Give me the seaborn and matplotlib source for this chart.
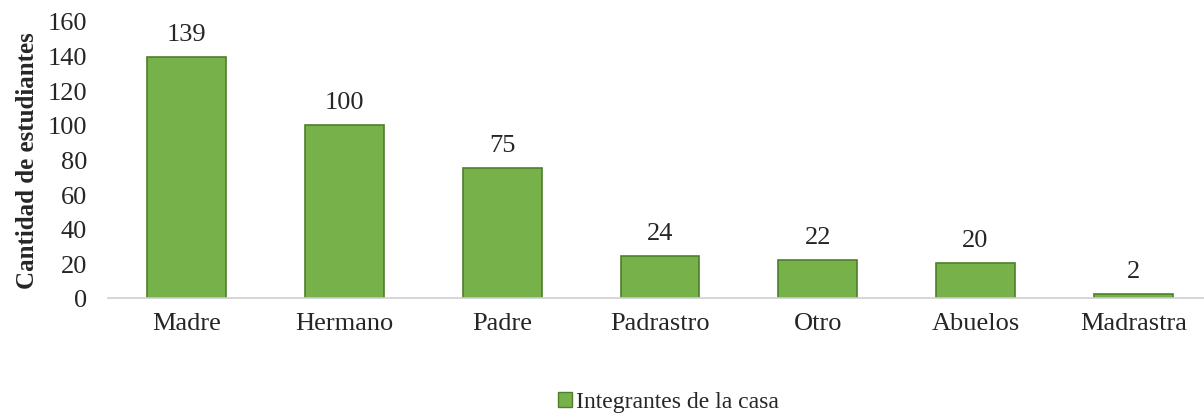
import seaborn as sns
import matplotlib.pyplot as plt
import pandas as pd
from matplotlib.patches import Patch

# Data
categories = ['Madre', 'Hermano', 'Padre', 'Padrastro', 'Otro', 'Abuelos', 'Madrastra']
values = [139, 100, 75, 24, 22, 20, 2]
series_name = 'Integrantes de la casa'

df = pd.DataFrame({'integrante': categories, 'cantidad': values})

sns.set_style("white")
plt.rcParams['font.family'] = ['Liberation Serif', 'DejaVu Serif']

fig = plt.figure(figsize=(12.04, 4.14), dpi=100)
ax = fig.add_axes([0.0897, 0.278, 0.917, 0.669])

bar_color = '#77b149'
edge_color = '#4f7f2b'
sns.barplot(data=df, x='integrante', y='cantidad', color=bar_color,
            width=0.5, edgecolor=edge_color, linewidth=1.2, saturation=1, ax=ax)

# value labels above bars
for i, v in enumerate(values):
    ax.text(i, v + 7, str(v), ha='center', va='bottom', fontsize=19)

ax.set_ylim(0, 160)
ax.set_xlim(-0.5, 6.5)
ax.set_yticks(range(0, 161, 20))
ax.tick_params(axis='both', length=0, labelsize=19)
ax.tick_params(axis='x', pad=10)
ax.tick_params(axis='y', pad=15)
ax.set_xlabel('')
ax.set_ylabel('Cantidad de estudiantes', fontsize=18, fontweight='bold', labelpad=6)

for s in ['top', 'right', 'left']:
    ax.spines[s].set_visible(False)
ax.spines['bottom'].set_color('#d0d0d0')
ax.spines['bottom'].set_linewidth(1.2)

# legend at the bottom
handle = Patch(facecolor=bar_color, edgecolor=edge_color, label=series_name)
fig.legend(handles=[handle], loc='lower center', bbox_to_anchor=(0.555, -0.05),
           frameon=False, fontsize=17, handlelength=0.6, handleheight=0.6,
           handletextpad=0.15)

fig.savefig('out.png', dpi=100)
